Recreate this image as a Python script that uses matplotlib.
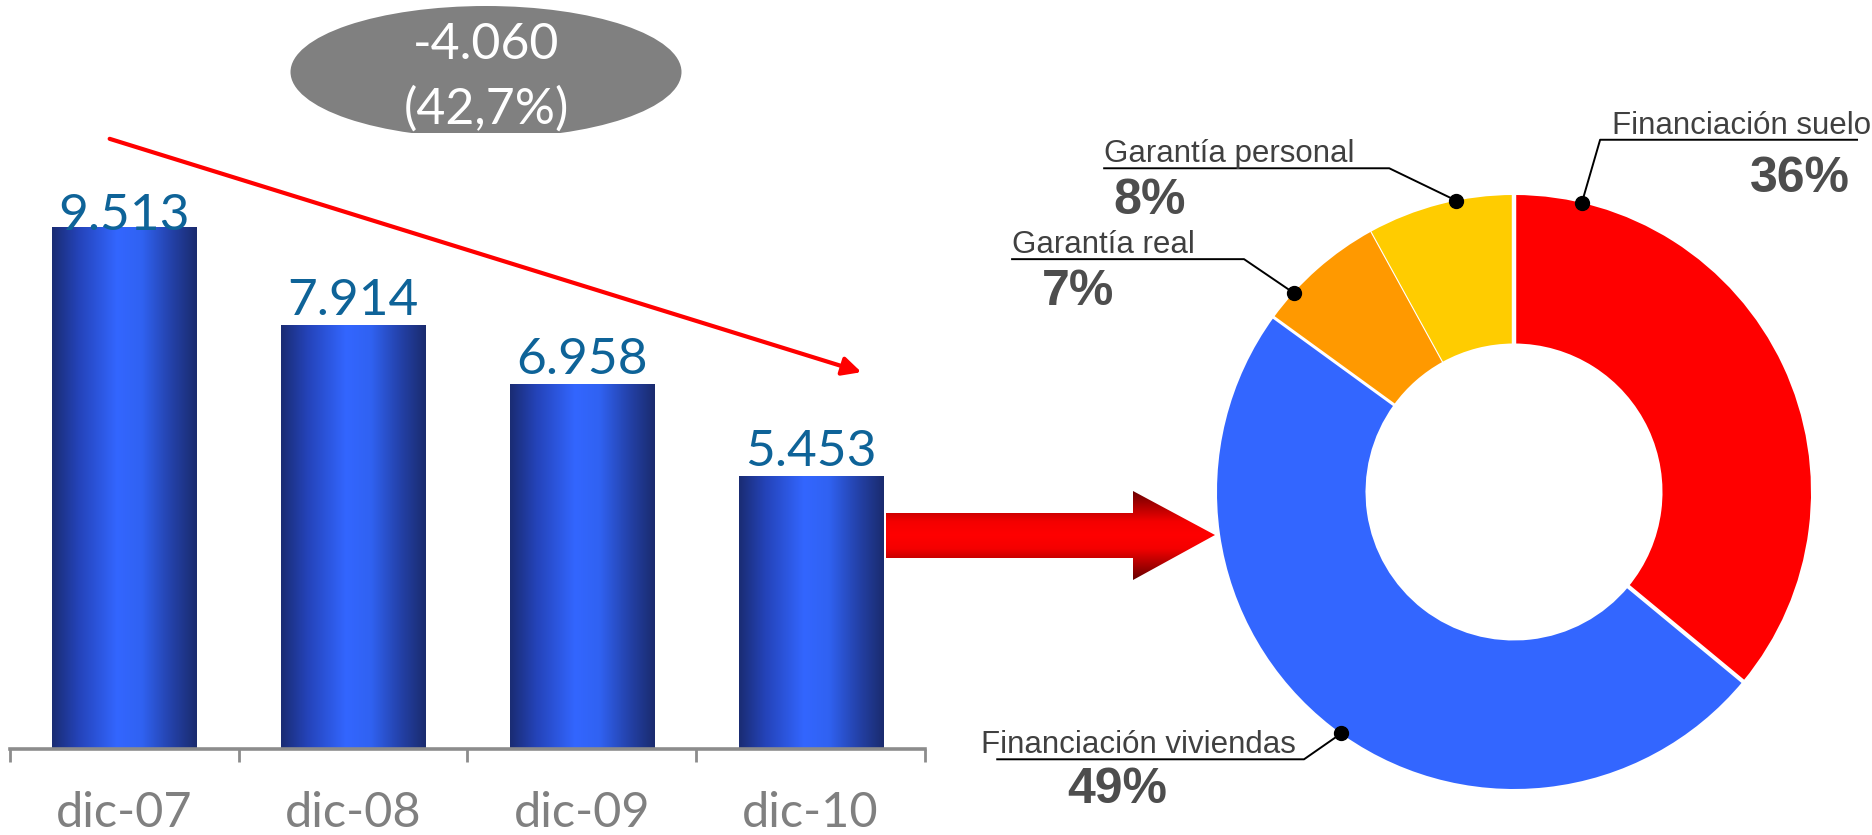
import numpy as np
import matplotlib.pyplot as plt
from matplotlib.patches import Ellipse, Polygon, FancyArrowPatch, Rectangle
from matplotlib.colors import LinearSegmentedColormap

# bar chart data
years = ['dic-07', 'dic-08', 'dic-09', 'dic-10']
balance = [9513, 7914, 6958, 5453]
bal_text = ['9.513', '7.914', '6.958', '5.453']
change_text = ['-4.060', '(42,7%)']

# donut data (clockwise from the top)
segments = ['Financiación suelo', 'Financiación viviendas', 'Garantía real', 'Garantía personal']
shares = [36, 49, 7, 8]
share_text = ['36%', '49%', '7%', '8%']
seg_colors = ['#FF0000', '#3366FF', '#FF9900', '#FFCC00']

# label layout in donut units (radius = 1)
lab_text_x = [0.33, -1.795, -1.69, -1.38]
lab_line_y = [1.186, -0.90, 0.784, 1.09]
lab_line_x = [(1.155, 0.29), (-1.74, -0.707), (-1.69, -0.909), (-1.38, -0.42)]
lab_dot_ang = [76.8, 234.4, 137.9, 101.2]
lab_pct_xy = [(0.963, 1.054), (-1.335, -1.004), (-1.468, 0.672), (-1.226, 0.98)]

W, H = 1872, 835


def fx(x):
    return x / W


def fy(y):
    return 1 - y / H


fig = plt.figure(figsize=(W / 100, H / 100), dpi=100)
fig.patch.set_facecolor('white')

# ---- bars
Y0, Y1 = 1000, 13220
ax = fig.add_axes([fx(10), fy(749), fx(915), 749 / H])
x = np.arange(len(years))
bars = ax.bar(x, balance, width=0.63, color='none', edgecolor='none')
bar_cmap = LinearSegmentedColormap.from_list('barblue', [
    (0, '#1A2C73'), (0.18, '#2443B8'), (0.45, '#3366FF'),
    (0.62, '#3062F2'), (0.82, '#2442AA'), (1, '#1A2B6E')])
grad = np.linspace(0, 1, 256).reshape(1, -1)
for b in bars:
    im = ax.imshow(grad, cmap=bar_cmap, aspect='auto', interpolation='bicubic',
                   extent=(b.get_x(), b.get_x() + b.get_width(), Y0, b.get_height()))
    im.set_clip_path(b)
ax.set_xlim(-0.5, 3.5)
ax.set_ylim(Y0, Y1)

# labels sit ~10px above the bar, but never above the plot-area ceiling
lab_gap = 163
lab_ceiling = 9469
for i, t in enumerate(bal_text):
    ax.text(x[i], min(balance[i] + lab_gap, lab_ceiling), t, ha='center', va='baseline',
            fontsize=37, color='#0E6398', family='Lato')

for s in ['top', 'left', 'right']:
    ax.spines[s].set_visible(False)
ax.spines['bottom'].set_color('#8C8C8C')
ax.spines['bottom'].set_linewidth(2.6)
ax.spines['bottom'].set_zorder(5)
ax.set_yticks([])
ax.set_xticks(x)
ax.set_xticklabels(years)
ax.set_xticks(np.arange(-0.5, 4, 1), minor=True)
ax.tick_params(axis='x', which='major', length=0, pad=30, labelsize=35, labelcolor='#808080')
ax.tick_params(axis='x', which='minor', length=9.5, width=2, color='#8C8C8C')
for lbl in ax.get_xticklabels():
    lbl.set_family('Lato')

# trend arrow and change bubble
trend = FancyArrowPatch((fx(107), fy(138)), (fx(864), fy(373)), transform=fig.transFigure,
                        arrowstyle='-|>', mutation_scale=28, color='#FF0000', lw=3)
fig.add_artist(trend)
fig.add_artist(Ellipse((fx(486), fy(72)), width=391 / W, height=132 / H,
                       transform=fig.transFigure, facecolor='#808080', edgecolor='none'))
fig.add_artist(Rectangle((fx(407), fy(140)), 163 / W, 7 / H, transform=fig.transFigure,
                         facecolor='white', edgecolor='none'))
fig.text(fx(486), fy(59), change_text[0], ha='center', va='baseline', color='white',
         fontsize=36, family='Lato')
fig.text(fx(486), fy(124), change_text[1], ha='center', va='baseline', color='white',
         fontsize=36, family='Lato')

# ---- block arrow between charts
aax = fig.add_axes([fx(880), fy(585), fx(340), 100 / H])
aax.set_xlim(880, 1220)
aax.set_ylim(585, 485)
aax.axis('off')
poly = Polygon([(886, 513), (1133, 513), (1133, 491), (1215, 535), (1133, 580),
                (1133, 558), (886, 558)], closed=True, facecolor='none', edgecolor='none')
aax.add_patch(poly)
arr_cmap = LinearSegmentedColormap.from_list('arrred', [
    (0, '#FF0000'), (0.3, '#F40000'), (0.5, '#CC0000'), (1, '#660000')])
yy = np.linspace(485, 585, 200)
dist = np.abs(yy - 535) / 45
img = np.repeat(dist.reshape(-1, 1), 4, axis=1)
aim = aax.imshow(img, cmap=arr_cmap, vmin=0, vmax=1, aspect='auto',
                 extent=(880, 1220, 585, 485), interpolation='bilinear')
aim.set_clip_path(poly)
aax.set_xlim(880, 1220)
aax.set_ylim(585, 485)

# ---- donut
R_PX = 297
ax2 = fig.add_axes([fx(1514 - 350), fy(492 + 350), fx(700), 700 / H])
wedges, _ = ax2.pie(shares, colors=seg_colors, startangle=90, counterclock=False, radius=1,
                    wedgeprops=dict(width=0.5, linewidth=0))
L = 350 / R_PX
ax2.set_xlim(-L, L)
ax2.set_ylim(-L, L)

# white separators between wedges
cum = np.concatenate([[0], np.cumsum(shares)[:-1]])
sep_lw = [3.2, 3.0, 2.2, 0.8]
for c, lw in zip(cum, sep_lw):
    a = np.deg2rad(90 - 3.6 * c)
    ax2.plot([0.47 * np.cos(a), 1.03 * np.cos(a)], [0.47 * np.sin(a), 1.03 * np.sin(a)],
             color='white', lw=lw, solid_capstyle='butt', clip_on=False)

lab_font = ['Liberation Sans', 'DejaVu Sans']
for i, name in enumerate(segments):
    a = np.deg2rad(lab_dot_ang[i])
    dx, dy = np.cos(a), np.sin(a)
    x_end, x_corner = lab_line_x[i]
    ax2.plot([x_end, x_corner, dx], [lab_line_y[i], lab_line_y[i], dy], color='black',
             lw=1.4, clip_on=False)
    ax2.plot(dx, dy, 'o', color='black', ms=10, clip_on=False)
    ax2.text(lab_text_x[i], lab_line_y[i] + 0.02, name, ha='left', va='baseline',
             fontsize=22.5, color='#404040', family=lab_font)
    px, py = lab_pct_xy[i]
    ax2.text(px, py, share_text[i], ha='center', va='center', fontsize=36,
             fontweight='bold', color='#4D4D4D', family=lab_font)

fig.savefig('out.png', dpi=100, facecolor='white')
